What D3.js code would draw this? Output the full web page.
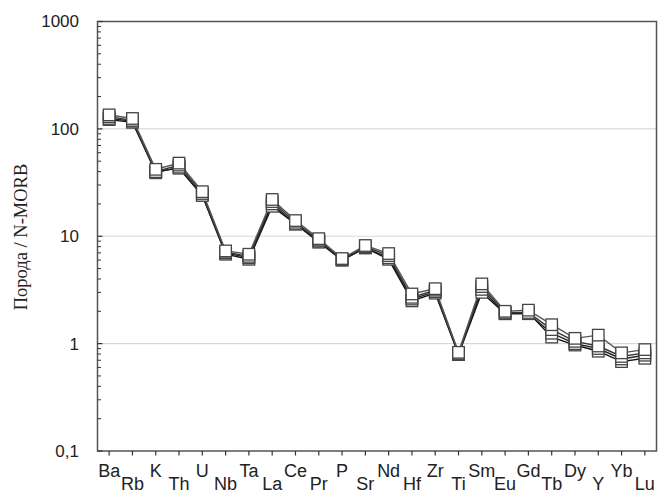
<!DOCTYPE html>
<html><head><meta charset="utf-8">
<script src="https://cdn.jsdelivr.net/npm/d3@7"></script>
<style>body{margin:0;background:#fff;}svg{display:block;}</style>
</head><body>
<script>
const categories = ["Ba","Rb","K","Th","U","Nb","Ta","La","Ce","Pr","P","Sr","Nd","Hf","Zr","Ti","Sm","Eu","Gd","Tb","Dy","Y","Yb","Lu"];
const series1 = [135,125,42,48,26,7.3,6.8,22,14,9.5,6.2,8.2,6.9,2.9,3.25,0.83,3.6,2.0,2.05,1.5,1.12,1.2,0.82,0.88];
const series2 = [130,120,40,46,25,7.1,6.5,21,13.5,9.2,6.1,8.0,6.6,2.7,3.15,0.81,3.4,1.95,1.95,1.35,1.05,0.95,0.76,0.82];
const series3 = [125,118,39,44,24,7.0,6.3,20,13,9.0,6.0,7.8,6.3,2.6,3.05,0.80,3.2,1.9,1.9,1.25,1.0,0.9,0.72,0.78];
const series4 = [122,115,40,43,24,6.8,6.1,19,13,8.8,6.0,7.8,6.1,2.5,2.95,0.79,3.0,1.9,1.95,1.15,0.97,0.85,0.68,0.73];
const yTicks = [0.1,1,10,100,1000];
const yTickLabels = ["0,1","1","10","100","1000"];
const yTitle = "Порода / N-MORB";

const W = 658, H = 495;
const L = 97.5, R = 656.5, T = 21.5, B = 451;
const svg = d3.select("body").append("svg").attr("width", W).attr("height", H);

const x = d3.scaleBand().domain(categories).range([L, R]);
const xc = c => x(c) + x.bandwidth() / 2;
const y = d3.scaleLog().domain([0.1, 1000]).range([B, T]);

// gridlines
svg.append("g").selectAll("line").data([1,10,100]).join("line")
  .attr("x1", L).attr("x2", R).attr("y1", d => y(d)).attr("y2", d => y(d))
  .attr("stroke", "#d9d9d9").attr("stroke-width", 1.2);

// frame
svg.append("rect").attr("x", L).attr("y", T).attr("width", R - L).attr("height", B - T)
  .attr("fill", "none").attr("stroke", "#555").attr("stroke-width", 1.5);

// left axis ticks (inside)
const minor = [];
for (let e = -1; e < 3; e++) for (let k = 2; k <= 9; k++) minor.push(k * Math.pow(10, e));
svg.append("g").selectAll("line").data(minor).join("line")
  .attr("x1", L).attr("x2", L + 3.5).attr("y1", d => y(d)).attr("y2", d => y(d))
  .attr("stroke", "#333").attr("stroke-width", 1);
svg.append("g").selectAll("line").data(yTicks).join("line")
  .attr("x1", L).attr("x2", L + 5).attr("y1", d => y(d)).attr("y2", d => y(d))
  .attr("stroke", "#333").attr("stroke-width", 1.2);
svg.append("g").selectAll("text").data(yTicks).join("text")
  .attr("x", 79).attr("y", d => y(d)).attr("dy", "0.35em")
  .attr("text-anchor", "end").attr("font-family", "Liberation Sans, Arial, sans-serif")
  .attr("font-size", 17).attr("fill", "#222")
  .text((d, i) => yTickLabels[i]);

// bottom axis ticks
svg.append("g").selectAll("line").data(categories).join("line")
  .attr("x1", d => xc(d)).attr("x2", d => xc(d)).attr("y1", B).attr("y2", B + 4.5)
  .attr("stroke", "#333").attr("stroke-width", 1.2);
svg.append("g").selectAll("text").data(categories).join("text")
  .attr("x", d => xc(d)).attr("y", (d, i) => i % 2 === 0 ? 477 : 490)
  .attr("text-anchor", "middle").attr("font-family", "Liberation Sans, Arial, sans-serif")
  .attr("font-size", 18).attr("fill", "#222")
  .text(d => d);

// y title
svg.append("text").attr("transform", `translate(27,237) rotate(-90)`)
  .attr("text-anchor", "middle").attr("font-family", "Liberation Serif, Times New Roman, serif")
  .attr("font-size", 18.5).attr("fill", "#222").text(yTitle);

// series
const allSeries = [series4, series3, series2, series1];
const colors = ["#111", "#222", "#333", "#555"];
const line = d3.line().x((d, i) => xc(categories[i])).y(d => y(d));
allSeries.forEach((s, k) => {
  svg.append("path").datum(s).attr("d", line).attr("fill", "none")
    .attr("stroke", colors[k]).attr("stroke-width", 1.4);
});
const sz = 11.5;
allSeries.forEach((s, k) => {
  svg.append("g").selectAll("rect").data(s).join("rect")
    .attr("x", (d, i) => xc(categories[i]) - sz / 2).attr("y", d => y(d) - sz / 2)
    .attr("width", sz).attr("height", sz)
    .attr("fill", "#fff").attr("stroke", "#444").attr("stroke-width", 1.3);
});
</script>
</body></html>
